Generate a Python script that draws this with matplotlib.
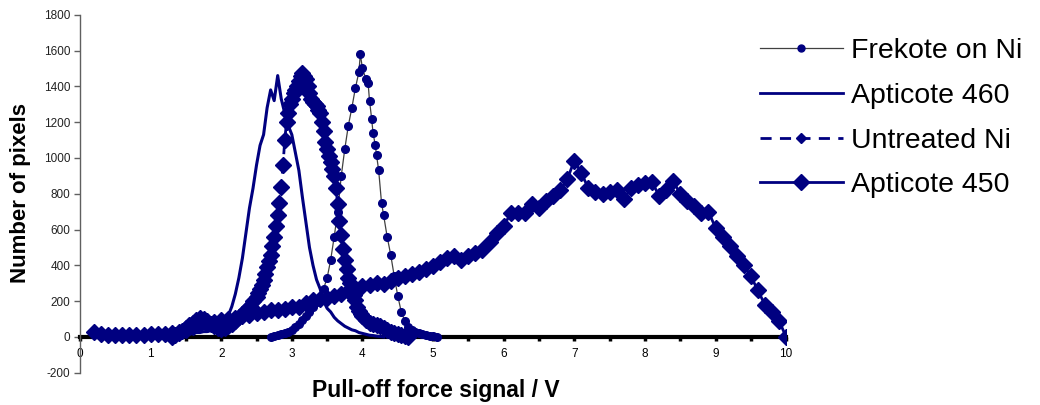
import matplotlib
matplotlib.use("Agg")
import matplotlib.pyplot as plt
from matplotlib.lines import Line2D

plt.rcParams['font.family'] = ['Liberation Sans', 'DejaVu Sans']
plt.rcParams['axes.unicode_minus'] = False  # plain hyphen in "-200"

navy = '#000080'

# Frekote on Ni (dots on a thin line)
frekote_x = [2.70, 2.75, 2.80, 2.85, 2.90, 2.95, 3.00, 3.05, 3.10, 3.15, 3.20, 3.25, 3.30, 3.35,
             3.40, 3.45, 3.50, 3.55, 3.60, 3.65, 3.70, 3.75, 3.80, 3.85, 3.90, 3.95, 3.97, 4.00,
             4.05, 4.08, 4.10, 4.13, 4.15, 4.18, 4.20, 4.23, 4.27, 4.30, 4.35, 4.40, 4.45, 4.50,
             4.55, 4.60, 4.65, 4.70, 4.75, 4.80, 4.85, 4.90, 4.95, 5.00, 5.05]
frekote_y = [0, 5, 10, 15, 20, 30, 40, 55, 75, 95, 120, 140, 165, 195,
             225, 270, 330, 430, 560, 700, 900, 1050, 1180, 1280, 1390, 1480, 1580, 1500,
             1440, 1420, 1320, 1220, 1140, 1075, 1015, 930, 750, 680, 560, 460, 340, 230,
             140, 90, 55, 40, 30, 20, 15, 10, 6, 4, 0]

# Apticote 460 (plain line)
a460_x = [1.30, 1.35, 1.40, 1.45, 1.50, 1.55, 1.60, 1.65, 1.70, 1.75, 1.80, 1.85, 1.90, 1.95,
          2.00, 2.05, 2.10, 2.15, 2.20, 2.25, 2.30, 2.35, 2.40, 2.45, 2.50, 2.55, 2.60, 2.65,
          2.70, 2.75, 2.80, 2.85, 2.90, 2.95, 3.00, 3.05, 3.10, 3.15, 3.20, 3.25, 3.30, 3.35,
          3.40, 3.45, 3.50, 3.55, 3.60, 3.65, 3.70, 3.75, 3.80, 3.85, 3.90, 3.95, 4.00, 4.05,
          4.10, 4.15, 4.20, 4.25, 4.30]
a460_y = [0, 5, 10, 10, 15, 15, 20, 25, 25, 30, 30, 35, 40, 50,
          65, 85, 120, 170, 240, 330, 440, 580, 720, 830, 960, 1070, 1130, 1280,
          1380, 1320, 1460, 1330, 1250, 1180, 1130, 1030, 930, 780, 640, 500, 400, 320,
          270, 200, 160, 140, 110, 90, 75, 60, 50, 40, 35, 25, 20, 15,
          10, 8, 5, 3, 0]

# Untreated Ni (dashed, diamonds) - finer readings around the peak
untreated_x = [1.30, 1.35, 1.40, 1.45, 1.50, 1.55, 1.60, 1.65, 1.70, 1.75, 1.80, 1.85, 1.90, 1.95,
               2.00, 2.05, 2.10, 2.15, 2.20, 2.25, 2.30, 2.35, 2.40, 2.45,
               2.500, 2.525, 2.550, 2.575, 2.600, 2.625, 2.650, 2.675, 2.700, 2.725, 2.750, 2.775,
               2.800, 2.825, 2.850, 2.875, 2.900, 2.925, 2.950, 2.975, 3.000, 3.025, 3.050, 3.075,
               3.100, 3.125, 3.150, 3.175, 3.200, 3.225, 3.250, 3.275, 3.300, 3.325, 3.350, 3.375,
               3.400, 3.425, 3.450, 3.475, 3.500, 3.525, 3.550, 3.575, 3.600, 3.625, 3.650, 3.675,
               3.700, 3.725, 3.750, 3.775, 3.800, 3.825, 3.850, 3.875, 3.900, 3.925, 3.950, 3.975,
               4.00, 4.05, 4.10, 4.15, 4.20, 4.25, 4.30, 4.35, 4.40, 4.45, 4.50, 4.55, 4.60, 4.65]
untreated_y = [0, 10, 20, 35, 50, 65, 80, 95, 105, 100, 90, 75, 60, 50,
               45, 50, 60, 75, 90, 110, 130, 150, 170, 200,
               225, 245, 270, 290, 318, 350, 390, 425, 460, 510, 560, 620,
               680, 750, 840, 960, 1100, 1200, 1250, 1300, 1330, 1360, 1380, 1400,
               1430, 1460, 1475, 1460, 1440, 1400, 1360, 1330, 1310, 1300, 1290, 1270,
               1250, 1200, 1150, 1090, 1050, 1010, 980, 940, 900, 830, 740, 650,
               570, 490, 430, 380, 330, 300, 265, 235, 205, 170, 145, 130,
               115, 95, 80, 70, 65, 60, 50, 40, 30, 25, 15, 10, 5, 0]

# Apticote 450 (line with diamonds), 0.2 to 10 V
a450_x = [0.2, 0.3, 0.4, 0.5, 0.6, 0.7, 0.8, 0.9, 1.0, 1.1, 1.2, 1.3, 1.4, 1.5, 1.6, 1.7, 1.8, 1.9,
          2.0, 2.1, 2.2, 2.3, 2.4, 2.5, 2.6, 2.7, 2.8, 2.9, 3.0, 3.1, 3.2, 3.3, 3.4, 3.5, 3.6, 3.7,
          3.8, 3.9, 4.0, 4.1, 4.2, 4.3, 4.4, 4.5, 4.6, 4.7, 4.8, 4.9, 5.0, 5.1, 5.2, 5.3, 5.4, 5.5,
          5.6, 5.7, 5.8, 5.9, 6.0, 6.1, 6.2, 6.3, 6.4, 6.5, 6.6, 6.7, 6.8, 6.9, 7.0, 7.1, 7.2, 7.3,
          7.4, 7.5, 7.6, 7.7, 7.8, 7.9, 8.0, 8.1, 8.2, 8.3, 8.4, 8.5, 8.6, 8.7, 8.8, 8.9, 9.0, 9.1,
          9.2, 9.3, 9.4, 9.5, 9.6, 9.7, 9.8, 9.9, 10.0]
a450_y = [30, 15, 10, 12, 10, 12, 10, 12, 14, 15, 18, 25, 30, 40, 55, 70, 75, 85,
          95, 100, 105, 115, 125, 135, 140, 148, 152, 158, 165, 170, 190, 205, 210, 215, 230, 240,
          255, 265, 285, 290, 300, 295, 310, 330, 340, 350, 365, 380, 395, 420, 440, 450, 430, 455,
          470, 485, 530, 580, 620, 690, 695, 690, 740, 720, 760, 790, 820, 880, 985, 915, 830, 810,
          800, 810, 820, 770, 830, 850, 860, 865, 790, 820, 870, 800, 760, 730, 690, 700, 610, 560,
          510, 450, 400, 340, 260, 180, 140, 90, 0]

series_names = ['Frekote on Ni', 'Apticote 460', 'Untreated Ni', 'Apticote 450']

x_ticks = [0, 0.5, 1, 1.5, 2, 2.5, 3, 3.5, 4, 4.5, 5, 5.5, 6, 6.5, 7, 7.5, 8, 8.5, 9, 9.5, 10]
y_ticks = [-200, 0, 200, 400, 600, 800, 1000, 1200, 1400, 1600, 1800]

fig = plt.figure(figsize=(10.4, 4.05), dpi=100)
ax = fig.add_axes([0.0769, 0.0795, 0.679, 0.8842])

ax.plot(frekote_x, frekote_y, color='#404040', lw=0.9, marker='o', ms=5.5,
        mfc=navy, mec=navy, zorder=3)
ax.plot(a460_x, a460_y, color=navy, lw=2.2, zorder=3)
ax.plot(untreated_x, untreated_y, color=navy, lw=2, ls=(0, (4, 3)), marker='D', ms=8,
        mfc=navy, mec=navy, zorder=3)
ax.plot(a450_x, a450_y, color=navy, lw=2, marker='D', ms=8.5,
        mfc=navy, mec=navy, zorder=3)

# axes: y axis at x=0, x axis crossing at y=0 (thick black)
ax.set_xlim(0, 10)
ax.set_ylim(-200, 1800)
ax.spines['top'].set_visible(False)
ax.spines['right'].set_visible(False)
ax.spines['bottom'].set_position(('data', 0))
ax.spines['bottom'].set_linewidth(3)
ax.spines['bottom'].set_zorder(2)
ax.spines['left'].set_color('#606060')
ax.spines['left'].set_linewidth(1)

ax.set_xticks(x_ticks)
ax.set_xticklabels([str(int(t)) if t == int(t) else '' for t in x_ticks])
ax.set_yticks(y_ticks)
ax.tick_params(axis='x', direction='out', length=3, width=2.5, pad=5, labelsize=8.5, colors='black')
ax.tick_params(axis='y', direction='out', length=4, width=1, pad=3, labelsize=8.5,
               color='#606060', labelcolor='#222222')

fig.text(436 / 1040, 1 - 391 / 405, 'Pull-off force signal / V', ha='center', va='center',
         fontsize=16.5, fontweight='bold')
fig.text(20.5 / 1040, 1 - 193 / 405, 'Number of pixels', ha='center', va='center',
         rotation=90, fontsize=16, fontweight='bold')

# legend keys drawn like the original (smaller marks than in the plot)
handles = [
    Line2D([], [], color='#404040', lw=0.9, marker='o', ms=5, mfc=navy, mec=navy),
    Line2D([], [], color=navy, lw=2),
    Line2D([], [], color=navy, lw=2, ls=(0, (4, 3)), marker='D', ms=5, mfc=navy, mec=navy),
    Line2D([], [], color=navy, lw=2, marker='D', ms=8, mfc=navy, mec=navy),
]
fig.legend(handles, series_names, loc='upper left', bbox_to_anchor=(760 / 1040, 1 - 38 / 405),
           bbox_transform=fig.transFigure, frameon=False, fontsize=20.5,
           handlelength=2.9, handletextpad=0.3, labelspacing=0.66, borderpad=0, borderaxespad=0)

fig.savefig('out.png', dpi=100)
